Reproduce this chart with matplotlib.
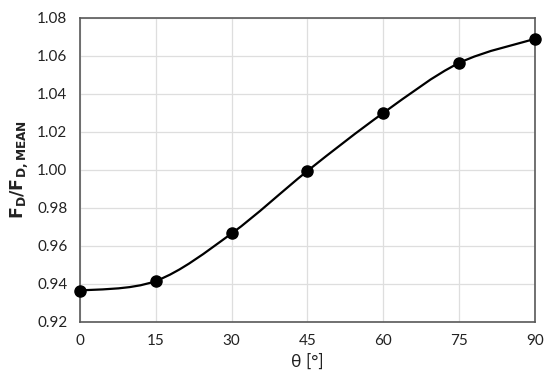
import numpy as np
import matplotlib
matplotlib.use("Agg")
import matplotlib.pyplot as plt
from matplotlib.path import Path
from matplotlib.patches import PathPatch

plt.rcParams['font.family'] = ['Lato', 'DejaVu Sans']

theta = [0, 15, 30, 45, 60, 75, 90]
fd_ratio = [0.9365, 0.9416, 0.9666, 0.9995, 1.0300, 1.0563, 1.0690]
x_ticks = [0, 15, 30, 45, 60, 75, 90]
y_ticks = [0.92, 0.94, 0.96, 0.98, 1.00, 1.02, 1.04, 1.06, 1.08]


def smooth_path(x, y):
    # Catmull-Rom style bezier, like a spreadsheet "smoothed line"
    p = np.column_stack([x, y]).astype(float)
    n = len(p)
    verts = [p[0]]
    codes = [Path.MOVETO]
    for i in range(n - 1):
        p0 = p[i - 1] if i > 0 else p[i]
        p3 = p[i + 2] if i + 2 < n else p[i + 1]
        c1 = p[i] + (p[i + 1] - p0) / 6.0
        c2 = p[i + 1] - (p3 - p[i]) / 6.0
        verts += [c1, c2, p[i + 1]]
        codes += [Path.CURVE4] * 3
    return Path(verts, codes)


fig = plt.figure(figsize=(5.5, 3.87), dpi=100)
ax = fig.add_axes([0.1455, 0.168, 0.827, 0.7855])

ax.add_patch(PathPatch(smooth_path(theta, fd_ratio), fill=False,
                       edgecolor='black', lw=1.6, zorder=3))
ax.plot(theta, fd_ratio, 'o', color='black', ms=8, zorder=4, clip_on=False)

ax.set_xlim(0, 90)
ax.set_ylim(0.92, 1.08)
ax.set_xticks(x_ticks)
ax.set_yticks(y_ticks)
ax.set_yticklabels([f"{v:.2f}" for v in y_ticks])
ax.grid(True, color='#dedede', lw=0.9)
ax.set_axisbelow(True)
ax.tick_params(length=0, labelsize=11, colors='#222222', pad=9)
for s in ax.spines.values():
    s.set_color('#595959')
    s.set_linewidth(1.2)

ax.set_xlabel('θ [°]', fontsize=12.5, color='#222222', labelpad=4)
ax.set_ylabel(r'$\mathbf{F_{D}/F_{D,MEAN}}$', fontsize=12.5, color='#222222', labelpad=5)

fig.savefig('out.png', dpi=100)
